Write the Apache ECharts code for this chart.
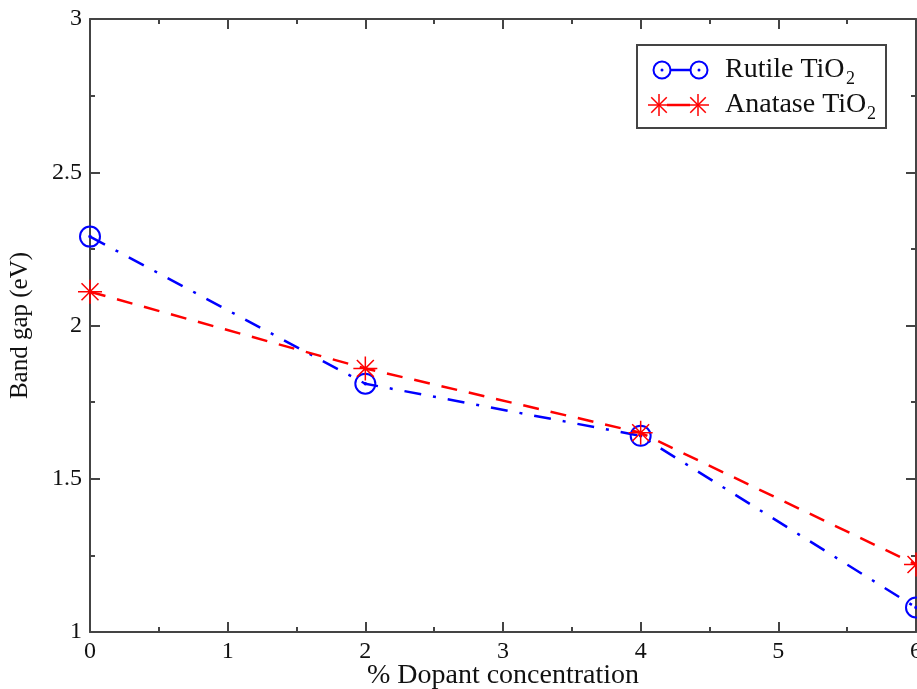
<!DOCTYPE html>
<html>
<head>
<meta charset="utf-8">
<script src="https://cdn.jsdelivr.net/npm/echarts@6/dist/echarts.min.js"></script>
<style>
html,body{margin:0;padding:0;background:#fff;}
#chart{width:917px;height:689px;}
</style>
</head>
<body>
<div id="chart"></div>
<script>
const xValues = [0, 2, 4, 6];
const rutile = [2.29, 1.81, 1.64, 1.08];
const anatase = [2.11, 1.86, 1.65, 1.22];
const xName = '% Dopant concentration';
const yName = 'Band gap (eV)';
const rutileLabel = 'Rutile TiO';
const anataseLabel = 'Anatase TiO';
const subscript = '2';

const FONT = 'Liberation Serif';
const AX = '#444';
const circleSym = 'path://M10,0A10,10 0 1,1 -10,0A10,10 0 1,1 10,0Z M0.8,0A0.8,0.8 0 1,1 -0.8,0A0.8,0.8 0 1,1 0.8,0Z';
const starSym = 'path://M0,-10L0,10M-10,0L10,0M-7.07,-7.07L7.07,7.07M-7.07,7.07L7.07,-7.07';

function pairs(xs, ys) { return xs.map((x, i) => [x, ys[i]]); }

const chart = echarts.init(document.getElementById('chart'));

const axisCommon = {
  type: 'value',
  axisLine: { show: true, onZero: false, lineStyle: { color: AX, width: 2 } },
  axisTick: { show: true, inside: true, length: 10, lineStyle: { color: AX, width: 2 } },
  minorTick: { show: true, splitNumber: 2, length: 5, lineStyle: { color: AX, width: 2 } },
  splitLine: { show: false },
  minorSplitLine: { show: false }
};

function starLines(cx, cy, r) {
  const d = r * 0.7071;
  const segs = [[0, -r, 0, r], [-r, 0, r, 0], [-d, -d, d, d], [-d, d, d, -d]];
  return segs.map(s => ({
    type: 'line', z: 12,
    shape: { x1: cx + s[0], y1: cy + s[1], x2: cx + s[2], y2: cy + s[3] },
    style: { stroke: '#ff0000', lineWidth: 1.5 }
  }));
}

chart.setOption({
  animation: false,
  backgroundColor: '#fff',
  grid: { left: 90, top: 19, right: 1, bottom: 57, containLabel: false, outerBoundsMode: 'none' },
  xAxis: [
    Object.assign({}, axisCommon, {
      min: 0, max: 6, interval: 1, position: 'bottom',
      axisLabel: { fontFamily: FONT, fontSize: 24, color: '#111', margin: 8 }
    }),
    Object.assign({}, axisCommon, {
      min: 0, max: 6, interval: 1, position: 'top',
      axisLabel: { show: false }
    })
  ],
  yAxis: [
    Object.assign({}, axisCommon, {
      min: 1, max: 3, interval: 0.5, position: 'left',
      axisLabel: { fontFamily: FONT, fontSize: 24, color: '#111', margin: 8 },
      name: yName, nameLocation: 'middle', nameGap: 57,
      nameTextStyle: { fontFamily: FONT, fontSize: 25, color: '#111' }
    }),
    Object.assign({}, axisCommon, {
      min: 1, max: 3, interval: 0.5, position: 'right',
      axisLabel: { show: false }
    })
  ],
  series: [
    {
      name: 'Rutile', type: 'line', xAxisIndex: 0, yAxisIndex: 0,
      data: pairs(xValues, rutile),
      symbol: circleSym, symbolSize: 20,
      itemStyle: { color: 'rgba(0,0,0,0)', borderColor: '#0000ff', borderWidth: 2 },
      lineStyle: { color: '#0000ff', width: 2.5, type: [17, 12, 3, 12] },
      clip: false, z: 2
    },
    {
      name: 'Anatase', type: 'line', xAxisIndex: 0, yAxisIndex: 0,
      data: pairs(xValues, anatase),
      symbol: starSym, symbolSize: 24,
      itemStyle: { color: 'rgba(0,0,0,0)', borderColor: '#ff0000', borderWidth: 1.5 },
      lineStyle: { color: '#ff0000', width: 2.5, type: [16, 12] },
      clip: false, z: 3
    }
  ],
  graphic: [
    { type: 'text', x: 503, y: 676, z: 11,
      style: { text: xName, font: '28px "Liberation Serif"', fill: '#111', align: 'center', verticalAlign: 'middle' } },
    { type: 'rect', shape: { x: 637, y: 45, width: 249, height: 83 },
      style: { fill: '#fff', stroke: AX, lineWidth: 2 }, z: 10 },
    { type: 'line', shape: { x1: 670, y1: 70, x2: 691, y2: 70 },
      style: { stroke: '#0000ff', lineWidth: 2.5 }, z: 11 },
    { type: 'circle', shape: { cx: 662, cy: 70, r: 8.5 }, style: { fill: 'none', stroke: '#0000ff', lineWidth: 2 }, z: 11 },
    { type: 'circle', shape: { cx: 662, cy: 70, r: 1.5 }, style: { fill: '#0000ff' }, z: 11 },
    { type: 'circle', shape: { cx: 699, cy: 70, r: 8.5 }, style: { fill: 'none', stroke: '#0000ff', lineWidth: 2 }, z: 11 },
    { type: 'circle', shape: { cx: 699, cy: 70, r: 1.5 }, style: { fill: '#0000ff' }, z: 11 },
    { type: 'line', shape: { x1: 667, y1: 105, x2: 690, y2: 105 },
      style: { stroke: '#ff0000', lineWidth: 2.5 }, z: 11 }
  ].concat(starLines(659, 105, 11), starLines(698, 105, 11), [
    { type: 'text', x: 725, y: 70, z: 11,
      style: { text: rutileLabel, font: '28px "Liberation Serif"', fill: '#111', verticalAlign: 'middle' } },
    { type: 'text', x: 846, y: 79, z: 11,
      style: { text: subscript, font: '18px "Liberation Serif"', fill: '#111', verticalAlign: 'middle' } },
    { type: 'text', x: 725, y: 105, z: 11,
      style: { text: anataseLabel, font: '28px "Liberation Serif"', fill: '#111', verticalAlign: 'middle' } },
    { type: 'text', x: 867, y: 114, z: 11,
      style: { text: subscript, font: '18px "Liberation Serif"', fill: '#111', verticalAlign: 'middle' } }
  ])
});
</script>
</body>
</html>
